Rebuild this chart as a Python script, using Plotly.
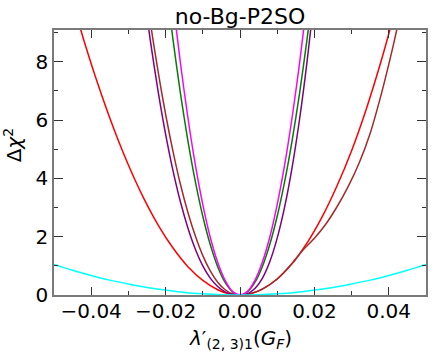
'''
    Delta chi-square scan for lambda'_(2,3)1 (no-Bg-P2SO).
'''
import plotly.graph_objects as go

# values
lam_cyan = [-0.05, -0.045, -0.04, -0.035, -0.03, -0.025, -0.02, -0.015, -0.01, -0.005, 0.0,
            0.005, 0.01, 0.015, 0.02, 0.025, 0.03, 0.035, 0.04, 0.045, 0.05]
chi_cyan = [1.05, 0.85, 0.67, 0.51, 0.38, 0.26, 0.17, 0.09, 0.04, 0.01, 0.0,
            0.01, 0.04, 0.09, 0.17, 0.26, 0.38, 0.51, 0.67, 0.85, 1.05]

lam_red = [-0.046, -0.042, -0.038, -0.034, -0.03, -0.026, -0.022, -0.018, -0.014, -0.01, -0.006, -0.003, 0.0,
           0.003, 0.006, 0.01, 0.014, 0.018, 0.022, 0.026, 0.03, 0.034, 0.038, 0.042]
chi_red = [10.5, 8.75, 7.16, 5.73, 4.46, 3.35, 2.40, 1.61, 0.97, 0.50, 0.18, 0.045, 0.0,
           0.05, 0.20, 0.55, 1.08, 1.78, 2.66, 3.72, 4.95, 6.40, 8.05, 9.9]

lam_brown = [-0.026, -0.024, -0.022, -0.02, -0.018, -0.016, -0.014, -0.012, -0.01, -0.008, -0.006, -0.004, -0.002, 0.0,
             0.003, 0.006, 0.01, 0.014, 0.017, 0.02, 0.023, 0.026, 0.029, 0.032, 0.035,
             0.038, 0.041, 0.044]
chi_brown = [11.04, 9.26, 7.65, 6.20, 4.92, 3.79, 2.83, 2.02, 1.35, 0.83, 0.44, 0.18, 0.04, 0.0,
             0.05, 0.20, 0.55, 1.08, 1.55, 1.95, 2.42, 3.01, 3.70, 4.52, 5.55,
             6.90, 8.45, 10.2]

lam_purple = [-0.026, -0.024, -0.022, -0.02, -0.018, -0.016, -0.014, -0.012, -0.01, -0.008, -0.006, -0.004, -0.002, 0.0,
              0.002, 0.004, 0.006, 0.008, 0.01, 0.012, 0.014, 0.016, 0.018, 0.02]
chi_purple = [10.52, 8.64, 6.98, 5.52, 4.26, 3.19, 2.30, 1.57, 1.00, 0.58, 0.29, 0.105, 0.02, 0.0,
              0.04, 0.22, 0.57, 1.14, 1.95, 3.02, 4.37, 6.02, 7.98, 10.28]

lam_green = [-0.02, -0.018, -0.016, -0.014, -0.012, -0.01, -0.008, -0.006, -0.004, -0.002, 0.0,
             0.002, 0.004, 0.006, 0.008, 0.01, 0.012, 0.014, 0.016, 0.018, 0.02]
chi_green = [10.8, 8.75, 6.91, 5.29, 3.89, 2.70, 1.73, 0.97, 0.43, 0.11, 0.0,
             0.11, 0.43, 0.97, 1.73, 2.70, 3.89, 5.29, 6.91, 8.75, 10.8]

lam_magenta = [-0.018, -0.016, -0.014, -0.012, -0.01, -0.008, -0.006, -0.004, -0.002, 0.0,
               0.002, 0.004, 0.006, 0.008, 0.01, 0.012, 0.014, 0.016, 0.018]
chi_magenta = [10.04, 7.94, 6.08, 4.46, 3.10, 1.98, 1.12, 0.50, 0.12, 0.0,
               0.12, 0.50, 1.12, 1.98, 3.10, 4.46, 6.08, 7.94, 10.04]

x_ticks = [-0.04, -0.02, 0.0, 0.02, 0.04]
x_ticktext = ['\u22120.04', '\u22120.02', '0.00', '0.02', '0.04']
y_ticks = [0, 2, 4, 6, 8]

FONT = 'DejaVu Sans'

curves = [
    (lam_red, chi_red, 'red'),
    (lam_brown, chi_brown, 'brown'),
    (lam_purple, chi_purple, 'purple'),
    (lam_green, chi_green, 'green'),
    (lam_magenta, chi_magenta, 'magenta'),
    (lam_cyan, chi_cyan, 'cyan'),
]

fig = go.Figure()
for lam, chi, col in curves:
    fig.add_trace(go.Scatter(
        x=lam, y=chi, mode='lines',
        line=dict(color=col, width=1.5, shape='spline', smoothing=0.8),
        showlegend=False, hoverinfo='skip',
    ))

axis_common = dict(
    showline=True, linecolor='#7a7a7a', linewidth=1.5, mirror='allticks',
    ticks='inside', tickcolor='#333333', tickwidth=1.3,
    showgrid=False, zeroline=False,
    tickfont=dict(family=FONT, size=20, color='black'),
)

fig.update_xaxes(
    range=[-0.05, 0.05], tickvals=x_ticks, ticktext=x_ticktext, ticklen=8,
    ticklabelstandoff=-3,
    minor=dict(ticks='inside', dtick=0.01, tick0=0, ticklen=4, tickcolor='#333333', tickwidth=1.2),
    **axis_common,
)
fig.update_yaxes(
    range=[0, 9.09], tickvals=y_ticks, ticklen=9,
    minor=dict(ticks='inside', dtick=1, tick0=0, ticklen=4.5, tickcolor='#333333', tickwidth=1.2),
    **axis_common,
)

fig.update_layout(
    width=436, height=354,
    margin=dict(l=54, r=8, t=30, b=58.5),
    paper_bgcolor='white', plot_bgcolor='white',
    font=dict(family=FONT, color='black'),
    title=dict(text='no-Bg-P2SO', x=0.5, xref='paper', y=0.955, yref='container',
               xanchor='center', yanchor='middle', font=dict(family=FONT, size=22, color='black')),
    annotations=[
        dict(text='<i>\u03bb</i>\u2032<sub>(2, 3)1</sub>(<i>G<sub>F</sub></i>)',
             x=0.5, y=-0.165, xref='paper', yref='paper', xanchor='center', yanchor='middle',
             showarrow=False, font=dict(family=FONT, size=20, color='black')),
        dict(text='\u0394<i>\u03c7</i><sup>2</sup>', textangle=-90,
             x=-0.11, y=0.565, xref='paper', yref='paper', xanchor='center', yanchor='middle',
             showarrow=False, font=dict(family=FONT, size=20, color='black')),
    ],
)

fig.write_html('out.html', config={'displayModeBar': False},
               post_script="document.body.style.margin='0';")
